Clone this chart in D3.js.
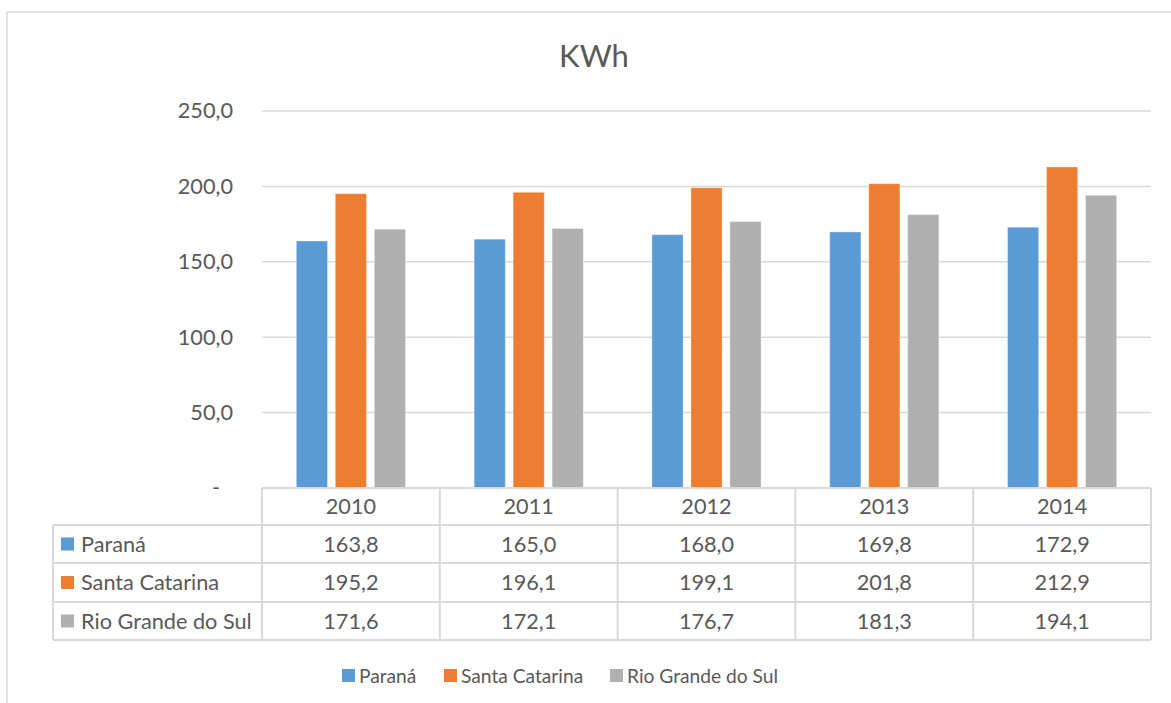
<!DOCTYPE html>
<html>
<head>
<meta charset="utf-8">
<script src="https://cdn.jsdelivr.net/npm/d3@7"></script>
<style>
  html, body { margin: 0; padding: 0; background: #fff; }
  svg { display: block; font-family: Lato, "Open Sans", sans-serif; }
</style>
</head>
<body>
<svg id="chart" width="1171" height="703"></svg>
<script>
// Consumo médio residencial (KWh) por estado, 2010–2014
const years = ["2010", "2011", "2012", "2013", "2014"];
const seriesNames = ["Paraná", "Santa Catarina", "Rio Grande do Sul"];
const parana = [163.8, 165.0, 168.0, 169.8, 172.9];
const santaCatarina = [195.2, 196.1, 199.1, 201.8, 212.9];
const rioGrandeDoSul = [171.6, 172.1, 176.7, 181.3, 194.1];
const colors = ["#5b9bd5", "#ed7d31", "#b0b0b0"];
const yTicks = [0, 50, 100, 150, 200, 250];
const title = "KWh";

const seriesValues = [parana, santaCatarina, rioGrandeDoSul];

const ptBR = d3.formatLocale({ decimal: ",", thousands: ".", grouping: [3], currency: ["R$", ""] });
const fmt = ptBR.format(".1f");

const svg = d3.select("#chart");
const textColor = "#595959";
const lineColor = "#d9d9d9";
const bodySize = 21.7;
const legendSize = 19.2;

// Outer chart frame (top and left edges)
svg.append("line").attr("x1", 7).attr("x2", 1171).attr("y1", 12).attr("y2", 12)
  .attr("stroke", lineColor).attr("stroke-width", 1.5);
svg.append("line").attr("x1", 7).attr("x2", 7).attr("y1", 12).attr("y2", 703)
  .attr("stroke", lineColor).attr("stroke-width", 1.5);

// Title
svg.append("text").attr("x", 594).attr("y", 67).attr("text-anchor", "middle")
  .attr("fill", textColor).attr("font-size", 31).text(title);

const plotLeft = 262, plotRight = 1151, plotTop = 111, plotBottom = 488;

const x0 = d3.scaleBand().domain(years).range([plotLeft, plotRight]).padding(0);
const bw = x0.bandwidth();
const x1 = d3.scaleBand().domain(seriesNames)
  .range([bw * 0.193, bw * 0.807]).paddingInner(0.2);
const y = d3.scaleLinear().domain([0, 250]).range([plotBottom, plotTop]);

// Gridlines
svg.append("g").selectAll("line").data(yTicks.filter(d => d > 0)).join("line")
  .attr("x1", plotLeft).attr("x2", plotRight)
  .attr("y1", d => y(d)).attr("y2", d => y(d))
  .attr("stroke", lineColor).attr("stroke-width", 1.5);

// Y axis labels
const yAxis = d3.axisLeft(y).tickValues(yTicks).tickSize(0).tickPadding(29)
  .tickFormat(d => d === 0 ? "-" : fmt(d));
const gy = svg.append("g").attr("transform", `translate(${plotLeft},0)`).call(yAxis);
gy.select(".domain").remove();
gy.selectAll("text").attr("fill", textColor).attr("font-size", bodySize)
  .attr("font-family", "Lato, sans-serif")
  .attr("dx", d => d === 0 ? -13 : 0);

// Bars
const groups = svg.append("g").selectAll("g").data(years).join("g")
  .attr("transform", d => `translate(${x0(d)},0)`);
groups.selectAll("rect")
  .data((yr, i) => seriesNames.map((s, k) => ({ s, k, v: seriesValues[k][i] })))
  .join("rect")
  .attr("x", d => x1(d.s))
  .attr("width", x1.bandwidth())
  .attr("y", d => y(d.v))
  .attr("height", d => y(0) - y(d.v))
  .attr("fill", d => colors[d.k])
  .attr("stroke", "#ffffff").attr("stroke-opacity", 0.35).attr("stroke-width", 1);

// Data table under the plot
const rowTop = [488, 525, 563, 602];
const rowBottom = 640;
const tableLeft = 53;
const table = svg.append("g");

// Horizontal rules
table.append("line").attr("x1", plotLeft).attr("x2", plotRight)
  .attr("y1", rowTop[0]).attr("y2", rowTop[0]).attr("stroke", lineColor).attr("stroke-width", 2);
[rowTop[1], rowTop[2], rowTop[3], rowBottom].forEach(yy => {
  table.append("line").attr("x1", tableLeft).attr("x2", plotRight)
    .attr("y1", yy).attr("y2", yy).attr("stroke", lineColor).attr("stroke-width", 2);
});
// Vertical rules
table.append("line").attr("x1", tableLeft).attr("x2", tableLeft)
  .attr("y1", rowTop[1]).attr("y2", rowBottom).attr("stroke", lineColor).attr("stroke-width", 2);
years.forEach(yr => {
  table.append("line").attr("x1", x0(yr)).attr("x2", x0(yr))
    .attr("y1", rowTop[0]).attr("y2", rowBottom).attr("stroke", lineColor).attr("stroke-width", 2);
});
table.append("line").attr("x1", plotRight).attr("x2", plotRight)
  .attr("y1", rowTop[0]).attr("y2", rowBottom).attr("stroke", lineColor).attr("stroke-width", 2);

// Header row: years
table.selectAll("text.year").data(years).join("text").attr("class", "year")
  .attr("x", d => x0(d) + bw / 2).attr("y", (rowTop[0] + rowTop[1]) / 2)
  .attr("dy", "0.36em").attr("text-anchor", "middle")
  .attr("fill", textColor).attr("font-size", bodySize).text(d => d);

const rowBounds = [[rowTop[1], rowTop[2]], [rowTop[2], rowTop[3]], [rowTop[3], rowBottom]];
seriesNames.forEach((name, k) => {
  const cy = (rowBounds[k][0] + rowBounds[k][1]) / 2;
  table.append("rect").attr("x", 61).attr("y", cy - 6.5).attr("width", 13).attr("height", 13)
    .attr("fill", colors[k]);
  table.append("text").attr("x", 81).attr("y", cy).attr("dy", "0.36em")
    .attr("fill", textColor).attr("font-size", bodySize).text(name);
  table.selectAll(null).data(years).join("text")
    .attr("x", d => x0(d) + bw / 2).attr("y", cy).attr("dy", "0.36em")
    .attr("text-anchor", "middle").attr("fill", textColor).attr("font-size", bodySize)
    .text((d, i) => fmt(seriesValues[k][i]));
});

// Legend
const legendItems = [{ x: 342 }, { x: 444 }, { x: 610 }];
const legend = svg.append("g");
seriesNames.forEach((name, k) => {
  legend.append("rect").attr("x", legendItems[k].x).attr("y", 669).attr("width", 13).attr("height", 13)
    .attr("fill", colors[k]);
  legend.append("text").attr("x", legendItems[k].x + 17).attr("y", 676).attr("dy", "0.36em")
    .attr("fill", textColor).attr("font-size", legendSize).text(name);
});
</script>
</body>
</html>
